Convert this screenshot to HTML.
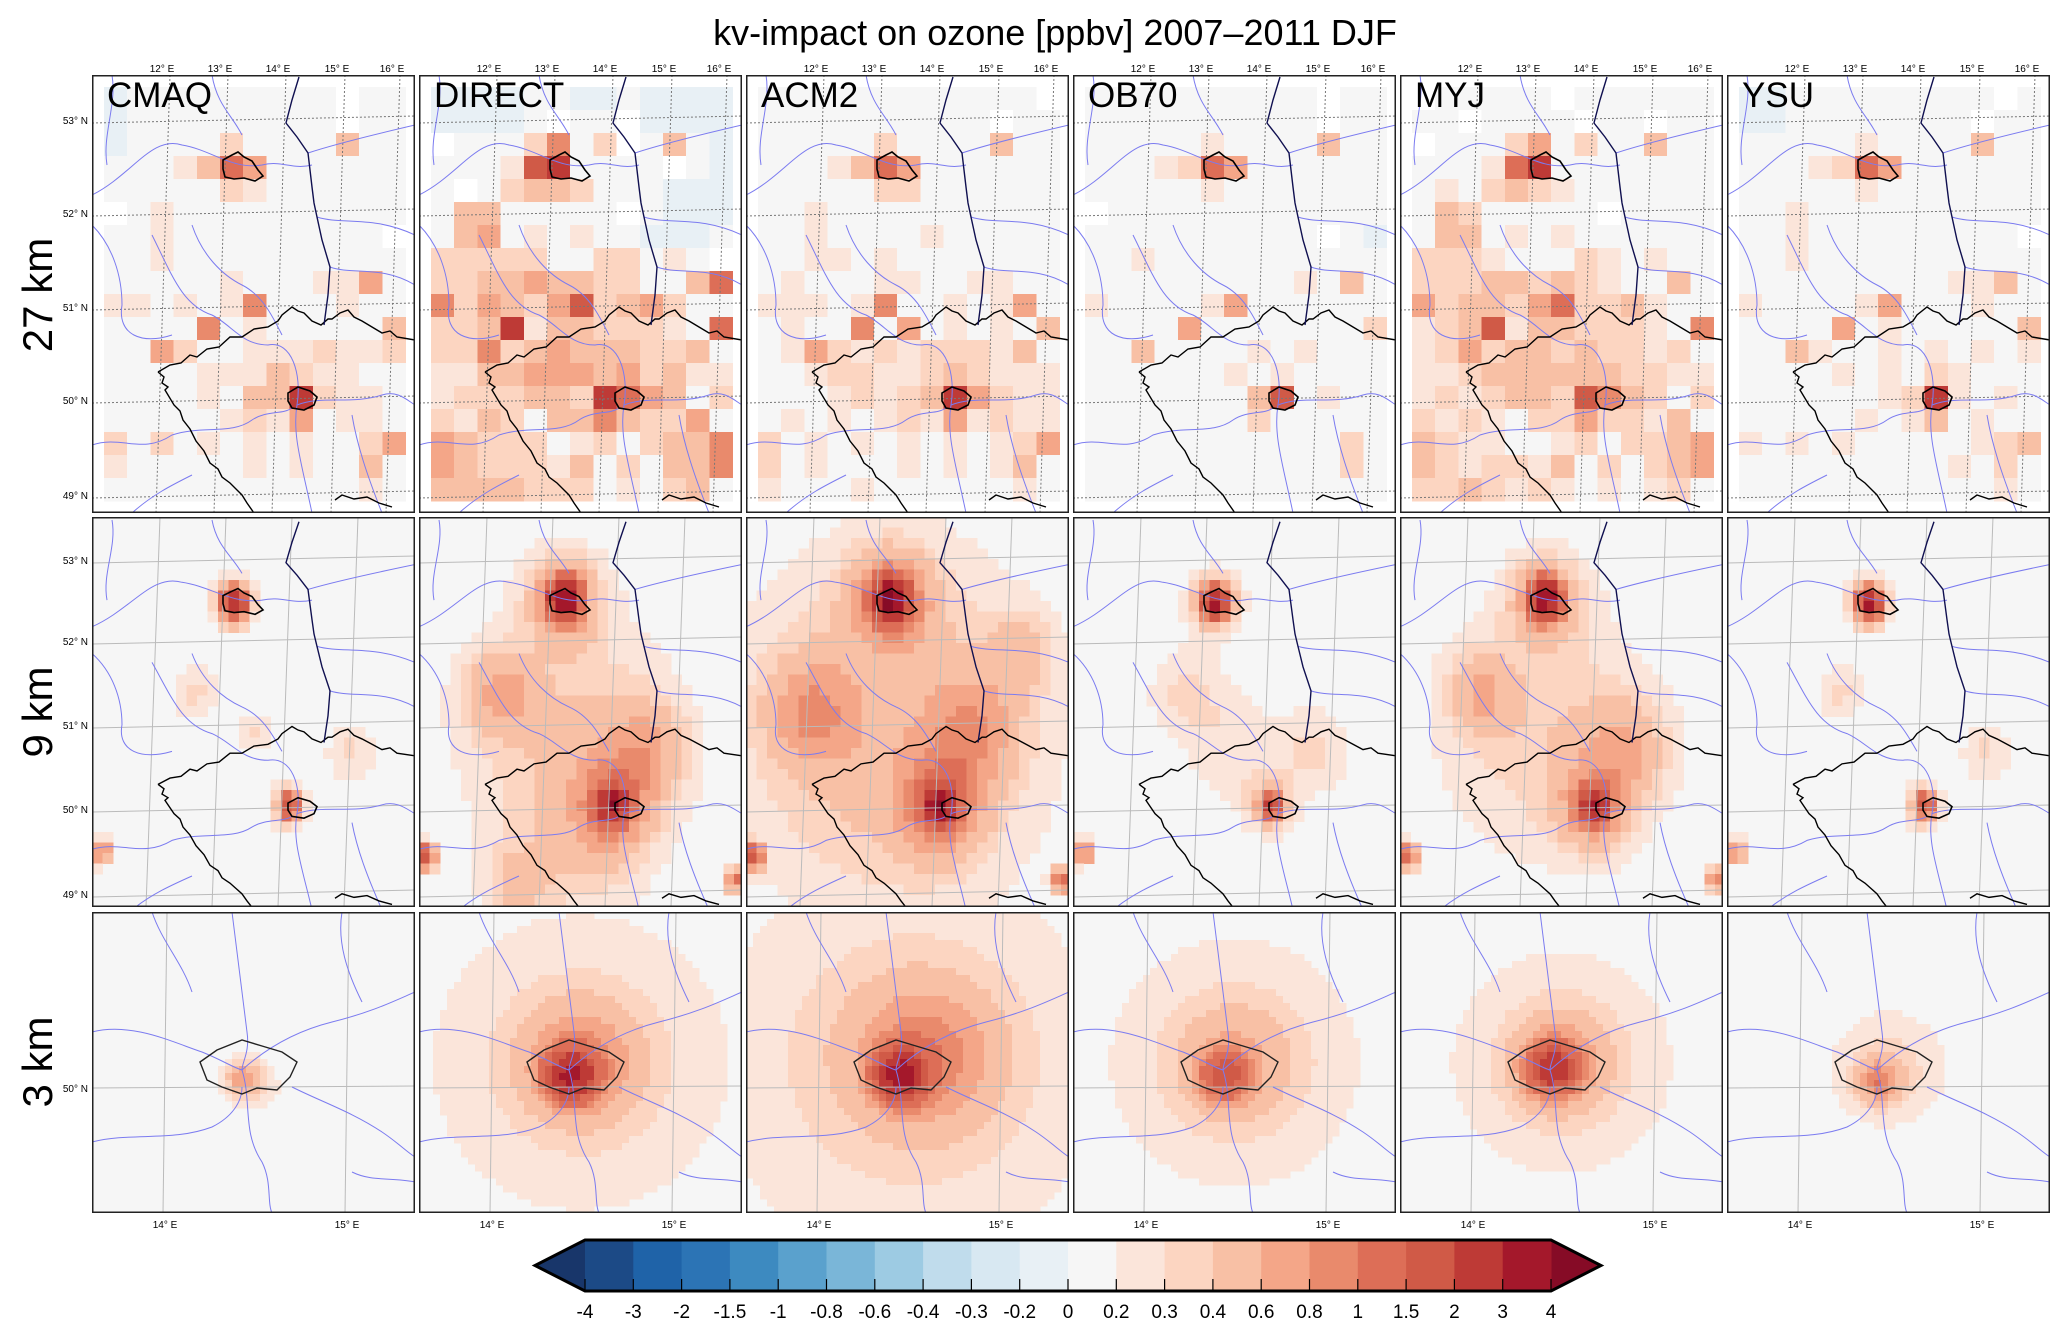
<!DOCTYPE html>
<html><head><meta charset="utf-8"><title>kv-impact on ozone</title>
<style>
html,body{margin:0;padding:0;background:#fff;}
svg{display:block;font-family:"Liberation Sans",sans-serif;}
</style></head>
<body>
<svg id="fig" width="2067" height="1333" viewBox="0 0 2067 1333" xmlns="http://www.w3.org/2000/svg">
<rect width="2067" height="1333" fill="#fff"/>
<text x="1055" y="45" font-size="36" text-anchor="middle">kv-impact on ozone [ppbv] 2007–2011 DJF</text>
<text transform="translate(52,295) rotate(-90)" font-size="42" text-anchor="middle">27 km</text>
<text transform="translate(52,712) rotate(-90)" font-size="42" text-anchor="middle">9 km</text>
<text transform="translate(52,1062) rotate(-90)" font-size="42" text-anchor="middle">3 km</text>
<g id="panels"></g>
<g id="cbar"></g>
</svg>
<script>
// ---- data ----
const models = ["CMAQ","DIRECT","ACM2","OB70","MYJ","YSU"];
const levels = [-4,-3,-2,-1.5,-1,-0.8,-0.6,-0.4,-0.3,-0.2,0,0.2,0.3,0.4,0.6,0.8,1,1.5,2,3,4];
const tickLabels = ["-4","-3","-2","-1.5","-1","-0.8","-0.6","-0.4","-0.3","-0.2","0","0.2","0.3","0.4","0.6","0.8","1","1.5","2","3","4"];
const binColors = ['#1c4a86','#1f63a8','#2c74b5','#3d8ac0','#5aa1cd','#7ab6d8','#9dcbe3','#c0dcec','#d8e8f2','#e8f0f5','#f6f6f6','#fbe5da','#fcd5c1','#f8c0a5','#f4a688','#e98a6c','#dd6e57','#d05a47','#be3a36','#a4182b'];
const underColor = '#18366a';
const overColor = '#860b26';
const codeValues = {'.':0.1,'1':0.25,'2':0.35,'3':0.5,'4':0.7,'5':0.9,'6':1.2,'7':1.7,'8':2.5,'9':3.5,'b':-0.1};
const latLabels27 = ["53° N","52° N","51° N","50° N","49° N"];
const latLabels9 = ["53° N","52° N","51° N","50° N","49° N"];
const lonLabelsTop = ["12° E","13° E","14° E","15° E","16° E"];
const lonLabels3 = ["14° E","15° E"];

const grid27 = {
 CMAQ:["b.........w..","b.........w..","b....2....3..","...1364......",".....21......","w.1..........","..1.........w","..1..........",".....1...114.","11.1.15...1..","....5.1.....3","..42..1112112","....1113211..","....1.338211.",".....1214.11.","2.2.1.1.1..24","1.....1.1..3.","...........1."],
 DIRECT:["bbbb..bb.bbbb","bbbb.w..wbbbb","w...25.2w.3.b","...178....w.b",".w.2332...bbb",".33.....w.bbb",".34.1.1..bbb.","22222..22.1.w","223343322..36","52432472342..","22381332221.6","225234333223.","1133444342311","12223328643.2","2132.3353224.","43222.12.2335","4322213.2.335","3333222.1.23."],
 ACM2:["............w","..........w..",".....2....3..","...1364......",".....22......","..1..........","..1....1.....","..11.1.......",".1...11..11..","111.15..1.14.",".1..5.4.1.1.3",".14212122213.","..12211232111","...1212384211",".1.1.12141211","2.1.1.1.1.124","2.1...1.1.13.","1...1......1."],
 OB70:["..........w..","..........w..",".....1....3..","...1264......",".....1.......","w............","..........w.b","..1..........",".........1.3.","1....14......","....4.......2","..3....1.1...","......1.1....",".......37.1..",".......2.....","...........2.","...........2.","............."],
 MYJ:["w.....w......","..w....w..w..","w...24.2..3..","...168.......",".1.2321......",".32.....w....",".33.1.1......","2221...21.1..","222332321..3.","42332462231..","12371332221.5","124233232212.","1123333332211","12123327532.2","2121.2242213.","3211..12.2234","3212213.2.234","2232121.1.12."],
 YSU:["bb.........w.","bb........w..",".....1....3..","...1264......",".....1.......","..1..........","..1.........w","..1..........",".........113.","1....14...1..","....4.1.....3","..31..1.1.1.1","....1.1.21...","......1281.1.",".....1.13.1..","1.1.1.....123",".........1.2.","...........1."]
};
const hot9 = {
 CMAQ:[[0.44,0.22,0.035,2.6],[0.44,0.22,0.07,0.45],[0.61,0.74,0.03,1.6],[0.61,0.74,0.06,0.35],[0.03,0.86,0.03,0.9],[0.32,0.45,0.08,0.22],[0.8,0.6,0.08,0.22],[0.5,0.55,0.05,0.25]],
 DIRECT:[[0.45,0.21,0.045,3.5],[0.45,0.21,0.11,0.6],[0.6,0.74,0.04,3.0],[0.6,0.74,0.11,0.7],[0.45,0.55,0.33,0.3],[0.25,0.45,0.1,0.45],[0.7,0.6,0.13,0.45],[0.02,0.87,0.03,1.6],[0.98,0.93,0.03,1.1],[0.5,0.85,0.2,0.2],[0.3,0.95,0.1,0.3]],
 ACM2:[[0.45,0.21,0.05,3.6],[0.45,0.21,0.12,0.7],[0.6,0.74,0.045,3.0],[0.6,0.74,0.12,0.8],[0.45,0.55,0.45,0.42],[0.2,0.5,0.13,0.5],[0.7,0.55,0.13,0.5],[0.02,0.87,0.03,1.8],[0.98,0.93,0.03,1.2],[0.85,0.35,0.1,0.3]],
 OB70:[[0.44,0.22,0.035,3.0],[0.44,0.22,0.08,0.5],[0.61,0.74,0.03,2.0],[0.61,0.74,0.07,0.4],[0.03,0.86,0.03,1.0],[0.35,0.45,0.12,0.22],[0.75,0.6,0.12,0.22],[0.5,0.6,0.15,0.18]],
 MYJ:[[0.45,0.21,0.045,3.2],[0.45,0.21,0.11,0.55],[0.6,0.74,0.04,2.8],[0.6,0.74,0.11,0.6],[0.45,0.55,0.33,0.28],[0.25,0.45,0.1,0.4],[0.7,0.6,0.13,0.4],[0.02,0.87,0.03,1.4],[0.98,0.93,0.03,1.0]],
 YSU:[[0.44,0.22,0.035,2.7],[0.44,0.22,0.07,0.45],[0.61,0.74,0.03,1.5],[0.61,0.74,0.06,0.35],[0.03,0.86,0.03,0.8],[0.35,0.45,0.08,0.22],[0.8,0.6,0.08,0.22]]
};
const hot3 = {
 CMAQ:[[0.47,0.55,0.05,0.55],[0.5,0.57,0.09,0.2]],
 DIRECT:[[0.47,0.54,0.07,2.6],[0.5,0.5,0.17,0.6],[0.5,0.5,0.5,0.23]],
 ACM2:[[0.48,0.54,0.07,3.0],[0.55,0.48,0.2,0.65],[0.5,0.5,0.6,0.28]],
 OB70:[[0.47,0.54,0.07,1.3],[0.5,0.5,0.18,0.35],[0.5,0.5,0.45,0.2]],
 MYJ:[[0.47,0.52,0.07,2.0],[0.5,0.5,0.15,0.5],[0.5,0.5,0.4,0.2]],
 YSU:[[0.47,0.56,0.06,0.7],[0.5,0.52,0.18,0.26]]
};

// ---- layout ----
const NS = "http://www.w3.org/2000/svg";
const colX = [92,419,746,1073,1400,1727];
const PW = 323;
const rows = [{y:75,h:438},{y:517,h:390},{y:912,h:301}];

function colorFor(v){
  if (v < levels[0]) return underColor;
  if (v >= levels[levels.length-1]) return overColor;
  for (let i=0;i<levels.length-1;i++){ if (v>=levels[i] && v<levels[i+1]) return binColors[i]; }
  return binColors[10];
}
function mk(tag, attrs, parent){
  const e = document.createElementNS(NS, tag);
  for (const k in attrs) e.setAttribute(k, attrs[k]);
  if (parent) parent.appendChild(e);
  return e;
}
function field(hs, fx, fy){
  let v = 0.1;
  for (const h of hs){
    const dx = fx-h[0], dy = (fy-h[1]);
    v += h[3]*Math.exp(-(dx*dx+dy*dy)/(h[2]*h[2]));
  }
  return v;
}

const panels = document.getElementById('panels');
const defs = mk('defs', {}, document.getElementById('fig'));

const czech = "M66,297 L78,290 L89,288 L98,280 L105,282 L115,274 L127,272 L138,262 L150,262 L162,254 L176,252 L186,246 L190,240 L200,232 L206,236 L212,238 L220,246 L229,250 L236,244 L240,244 L248,238 L256,235 L262,242 L270,246 L280,252 L290,258 L298,256 L305,262 L323,265";
const czechS = "M66,297 L72,302 L70,308 L76,312 L73,315 L82,330 L88,336 L91,345 L98,354 L104,366 L112,376 L118,388 L126,394 L130,402 L138,408 L145,415 L150,420 L155,428 L162,438";
const czechR = "M243,425 L250,420 L262,424 L275,422 L287,428 L300,432";
const oder = "M207,2 L200,25 L194,48 L205,62 L216,78 L218,95 L220,112 L222,128 L225,142 L230,165 L238,192 L236,220 L232,250";
const berlin = "M131,85 L140,80 L146,77 L152,82 L160,86 L166,95 L171,101 L163,106 L152,103 L142,104 L133,102 L131,94 Z";
const prague = "M196,318 L206,312 L218,316 L225,322 L222,330 L212,335 L200,333 L196,326 Z";
const rivers = [
 "M0,120 C40,100 60,60 90,70 C120,75 140,95 170,90 C190,85 200,95 220,90",
 "M0,150 C20,170 30,200 30,230 C25,260 50,270 80,260",
 "M60,160 C80,200 90,230 120,240 C140,250 150,270 176,270 C200,265 210,300 205,330 C200,360 210,390 220,438",
 "M100,150 C110,180 130,200 150,210 C170,220 180,240 190,260",
 "M225,142 C250,150 280,140 323,160",
 "M238,192 C260,200 290,190 323,210",
 "M216,78 C240,70 280,60 323,50",
 "M205,330 C230,320 260,330 290,320 C305,315 315,325 323,330",
 "M0,370 C30,360 50,380 80,360 C110,350 140,360 160,345 C175,335 190,340 200,333",
 "M40,438 C60,420 80,410 100,400",
 "M260,340 C265,370 275,400 290,438",
 "M120,0 C125,30 140,40 150,60",
 "M20,0 C25,30 10,60 15,90"
];
const rivers3 = [
 "M0,120 C40,110 80,130 110,140 C130,148 140,155 150,158",
 "M150,158 C170,140 200,120 240,110 C280,100 300,90 323,80",
 "M140,0 C145,40 150,80 155,120 C158,140 150,150 150,158",
 "M150,158 C160,190 150,220 170,250 C180,270 175,290 180,301",
 "M200,175 C230,190 260,200 290,220 C305,230 315,240 323,245",
 "M0,230 C40,220 80,230 120,215 C140,205 150,190 150,175",
 "M60,0 C70,30 90,50 100,80",
 "M250,0 C245,30 255,60 270,90",
 "M260,260 C280,270 300,265 323,270"
];

rows.forEach((row, ri) => {
  models.forEach((m, ci) => {
    const x0 = colX[ci], y0 = row.y, h = row.h;
    const cid = 'clip'+ri+'_'+ci;
    const cp = mk('clipPath', {id:cid}, defs);
    mk('rect', {x:0,y:0,width:PW,height:h}, cp);
    const g = mk('g', {transform:`translate(${x0},${y0})`}, panels);
    
    
    const inner = mk('g', {'clip-path':`url(#${cid})`}, g);
    mk('rect', {x:0,y:0,width:PW,height:h,fill:'#ffffff'}, inner);
    const cells = mk('g', {'shape-rendering':'crispEdges'}, inner);
    
    
    if (ri === 0){
      const gr = grid27[m];
      const cw = 23.2, chh = 23, ox = 12, oy = 12;
      mk('rect', {x:ox,y:oy,width:cw*13,height:chh*18,fill:binColors[10]}, cells);
      gr.forEach((line, r) => {
        for (let c=0;c<line.length;c++){
          const ch = line[c];
          const fill = ch === 'w' ? '#ffffff' : colorFor(codeValues[ch]);
          const rc = mk('rect', {x:(ox+c*cw).toFixed(1), y:(oy+r*chh).toFixed(1), width:cw+0.6, height:chh+0.6, fill:fill}, cells);
          
          
        }
      });
    } else {
      const hs = ri === 1 ? hot9[m] : hot3[m];
      const cs = ri === 1 ? 10.5 : 7;
      const nc = Math.ceil(PW/cs), nr = Math.ceil(h/cs);
      mk('rect', {x:0,y:0,width:PW,height:h,fill:binColors[10]}, cells);
      for (let r=0;r<nr;r++){
        for (let c=0;c<nc;c++){
          const fx = (c+0.5)*cs/PW, fy = (r+0.5)*cs/h;
          const v = field(hs, fx, ri===1 ? fy : fy*h/PW + (1-h/PW)*0.5);
          const fill = colorFor(v);
          if (fill === binColors[10]) continue;
          const rc = mk('rect', {x:(c*cs).toFixed(1), y:(r*cs).toFixed(1), width:cs+0.4, height:cs+0.4, fill:fill}, cells);
          
          
        }
      }
    }
    const grid = mk('g', {stroke: ri===0?'#777':'#bbb', 'stroke-width':1, 'stroke-dasharray': ri===0?'2,2':'none', fill:'none'}, inner);
    
    
    if (ri === 0){
      [45,138,232,325,420].forEach(y => mk('path', {d:`M0,${y+3} L${PW},${y-4}`}, grid));
      [70,128,186,245,300].forEach(x => mk('path', {d:`M${x+8},0 L${x-6},${h}`}, grid));
    } else if (ri === 1){
      [43,124,208,292,377].forEach(y => mk('path', {d:`M0,${y+3} L${PW},${y-4}`}, grid));
      [60,126,192,258].forEach(x => mk('path', {d:`M${x+8},0 L${x-6},${h}`}, grid));
    } else {
      mk('path', {d:`M0,176 L${PW},174`}, grid);
      [73,255].forEach(x => mk('path', {d:`M${x+2},0 L${x-2},${h}`}, grid));
    }
    const geo = mk('g', {fill:'none'}, inner);
    
    
    if (ri < 2){
      const tg = mk('g', {transform: ri===0 ? '' : 'translate(0,3) scale(1,0.89)'}, geo);
      rivers.forEach(d => mk('path', {d:d, stroke:'#7b7bf0', 'stroke-width':1, 'vector-effect':'non-scaling-stroke'}, tg));
      [czech, czechS, czechR].forEach(d => mk('path', {d:d, stroke:'#000', 'stroke-width':1.4, 'vector-effect':'non-scaling-stroke'}, tg));
      mk('path', {d:oder, stroke:'#101050', 'stroke-width':1.4, 'vector-effect':'non-scaling-stroke'}, tg);
      mk('path', {d:berlin, stroke:'#000', 'stroke-width':1.6, 'vector-effect':'non-scaling-stroke'}, tg);
      mk('path', {d:prague, stroke:'#000', 'stroke-width':1.6, 'vector-effect':'non-scaling-stroke'}, tg);
    } else {
      rivers3.forEach(d => mk('path', {d:d, stroke:'#7b7bf0', 'stroke-width':1}, geo));
      mk('path', {d:"M108,150 L125,138 L150,128 L170,134 L190,140 L205,150 L198,165 L185,178 L165,176 L150,182 L130,175 L115,168 Z", stroke:'#222', 'stroke-width':1.4}, geo);
    }
    const fr = mk('rect', {x:0.75,y:0.75,width:PW-1.5,height:h-1.5,fill:'none',stroke:'#222','stroke-width':1.5}, g);
    
    
    if (ri === 0){
      const t = mk('text', {x:15,y:32,'font-size':35}, g);
      t.textContent = m;
      
      
      [70,128,186,245,300].forEach((x,k) => {
        const lt = mk('text', {x:x,y:-3,'font-size':10,'text-anchor':'middle'}, g);
        lt.textContent = lonLabelsTop[k];
        
        
      });
    }
    if (ri === 2){
      [73,255].forEach((x,k) => {
        const lt = mk('text', {x:x,y:h+15,'font-size':10,'text-anchor':'middle'}, g);
        lt.textContent = lonLabels3[k];
        
        
      });
    }
    if (ci === 0){
      const ys = ri===0 ? [45,138,232,325,420] : ri===1 ? [43,124,208,292,377] : [176];
      const labs = ri===0 ? latLabels27 : ri===1 ? latLabels9 : ["50° N"];
      ys.forEach((y,k) => {
        const lt = mk('text', {x:-4,y:y+4,'font-size':10,'text-anchor':'end'}, g);
        lt.textContent = labs[k];
        
        
      });
    }
  });
});

// ---- colorbar ----
const cb = document.getElementById('cbar');
const cbX0 = 585, cbX1 = 1551, cbY0 = 1240, cbY1 = 1291, tipL = 535, tipR = 1601;
const nb = binColors.length, bw = (cbX1-cbX0)/nb, cym = (cbY0+cbY1)/2;
const la = mk('path', {d:`M${cbX0},${cbY0} L${tipL},${cym} L${cbX0},${cbY1} Z`, fill:underColor}, cb);


const ra = mk('path', {d:`M${cbX1},${cbY0} L${tipR},${cym} L${cbX1},${cbY1} Z`, fill:overColor}, cb);


binColors.forEach((c,i) => {
  const r = mk('rect', {x:(cbX0+i*bw).toFixed(2), y:cbY0, width:(bw+0.5).toFixed(2), height:cbY1-cbY0, fill:c}, cb);
  
  
});
tickLabels.forEach((t,i) => {
  const x = cbX0 + i*bw;
  mk('line', {x1:x, x2:x, y1:cbY1-12, y2:cbY1, stroke:'#000', 'stroke-width':1.2}, cb);
  const tx = mk('text', {x:x, y:cbY1+27, 'font-size':19, 'text-anchor':'middle'}, cb);
  tx.textContent = t;
  
  
});
const outline = mk('path', {d:`M${cbX0},${cbY0} L${cbX1},${cbY0} L${tipR},${cym} L${cbX1},${cbY1} L${cbX0},${cbY1} L${tipL},${cym} Z`, fill:'none', stroke:'#000', 'stroke-width':3}, cb);


</script>
</body></html>
